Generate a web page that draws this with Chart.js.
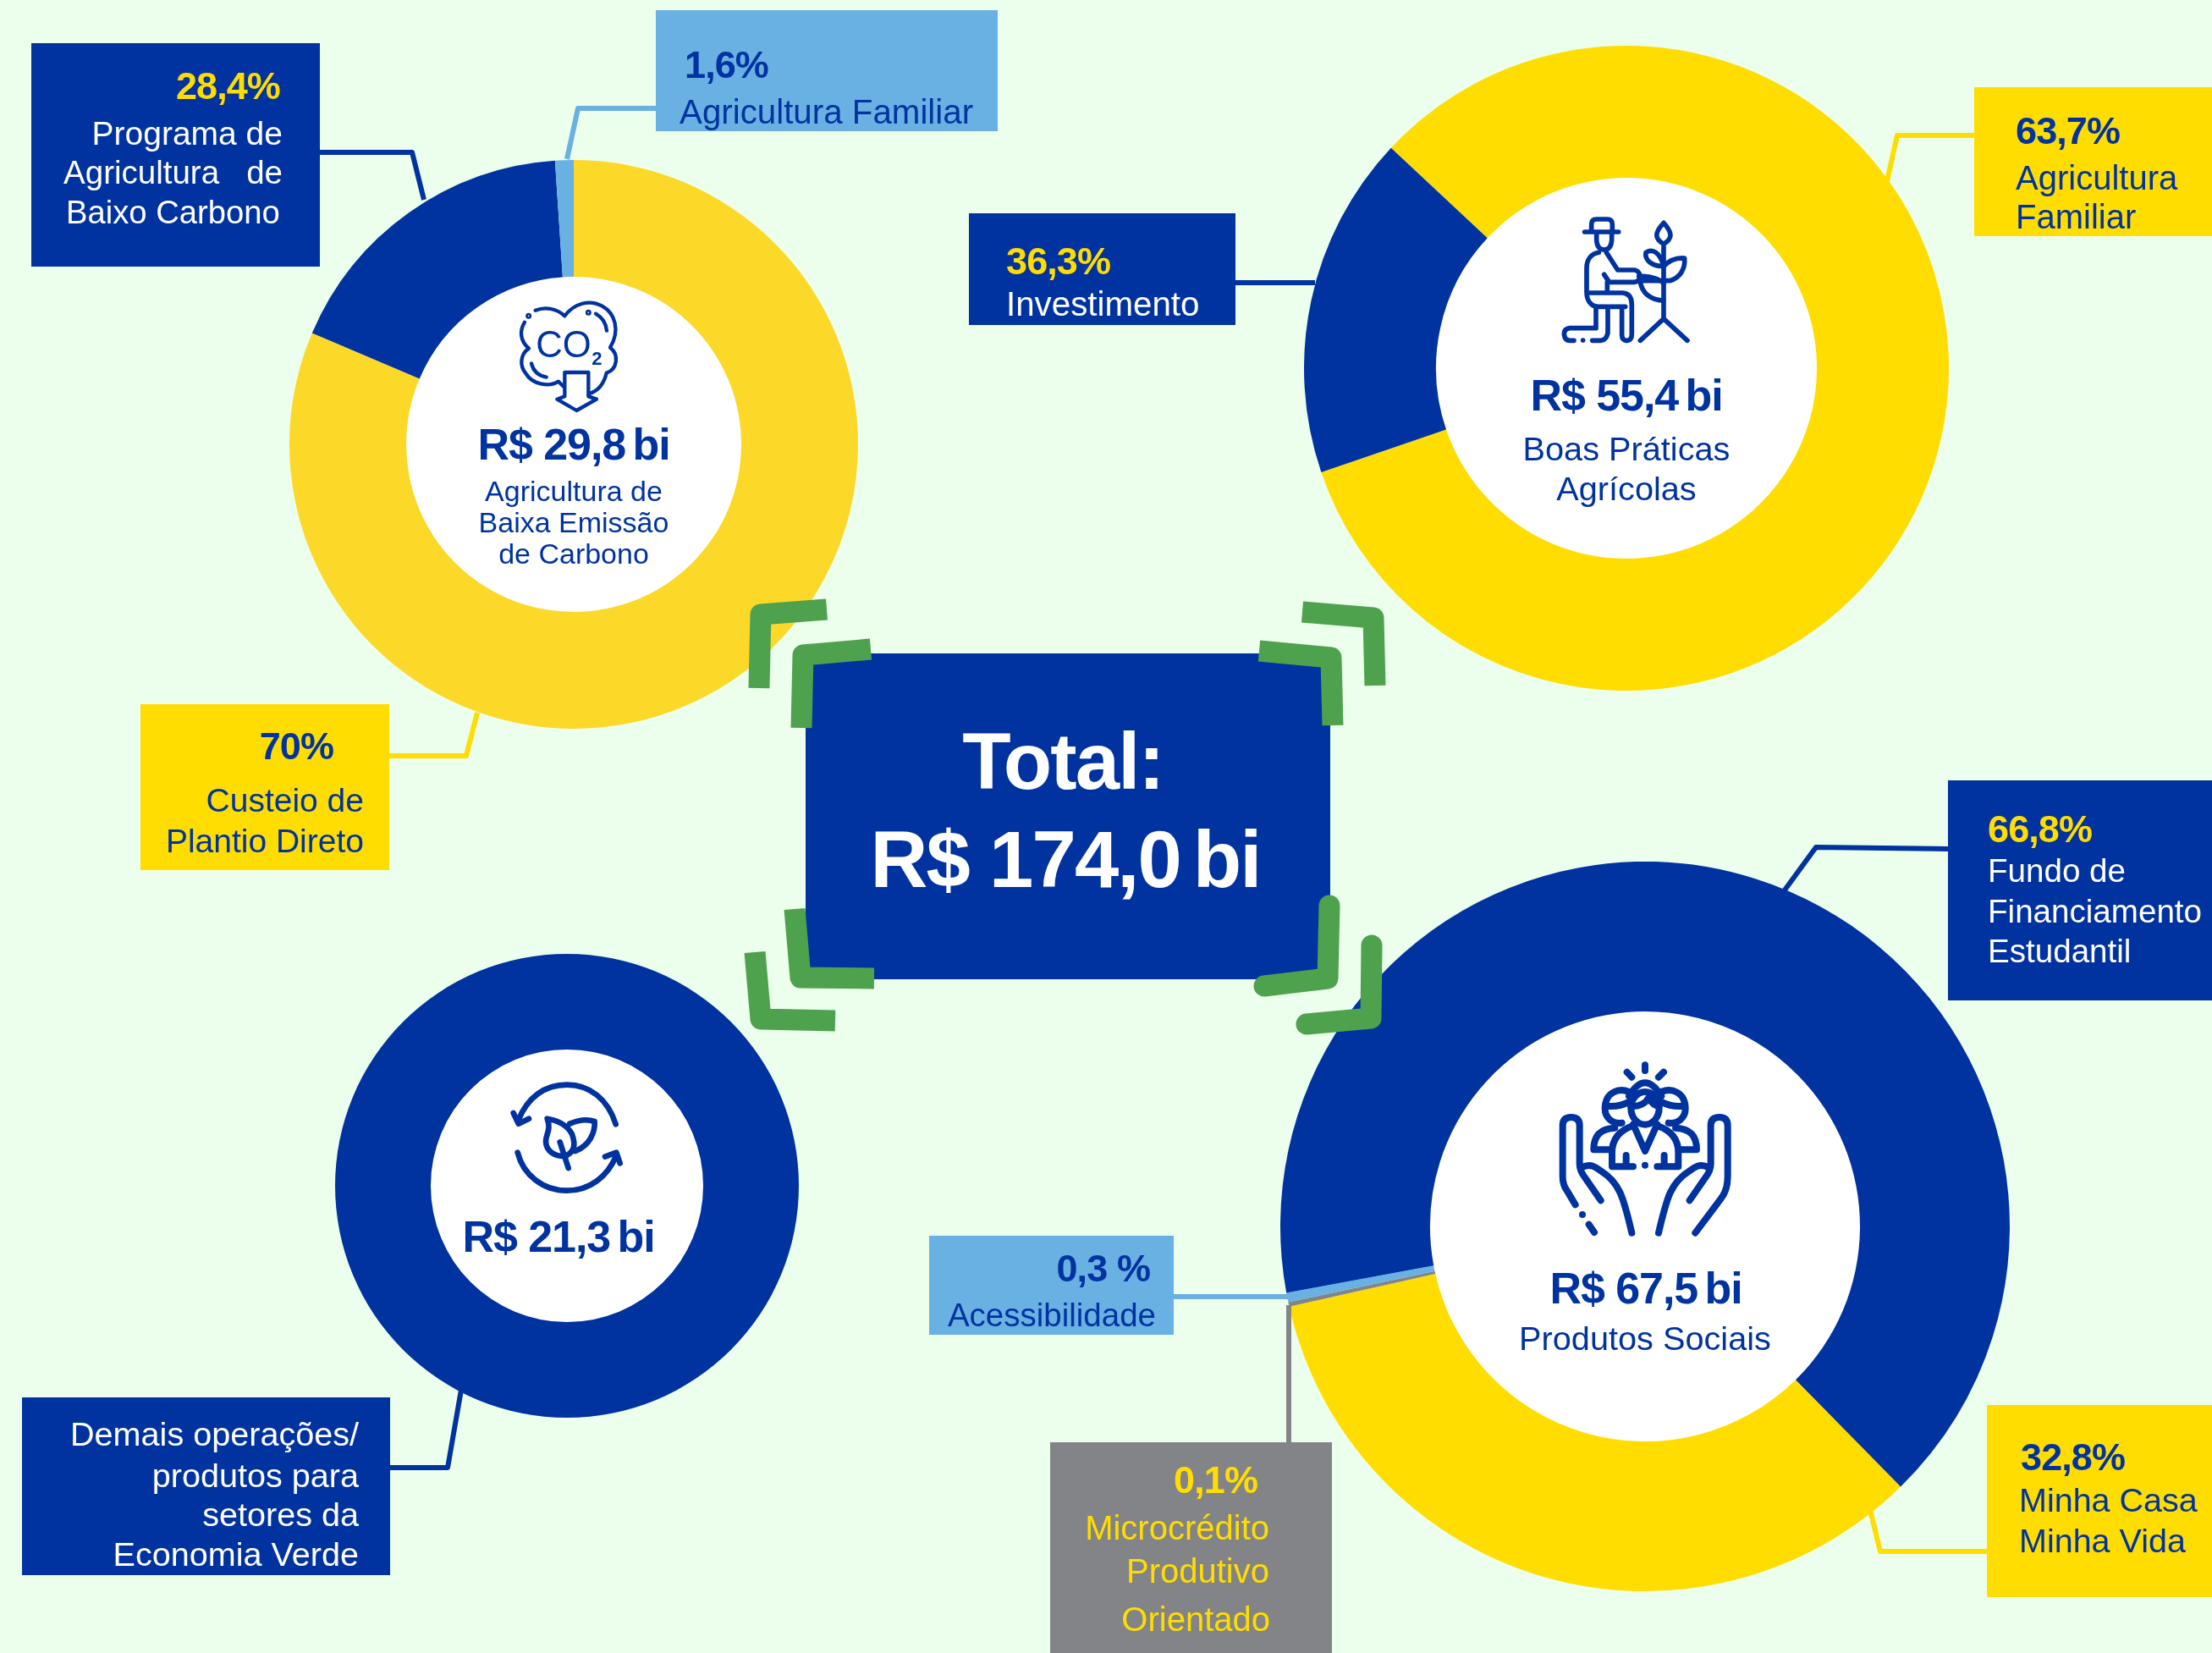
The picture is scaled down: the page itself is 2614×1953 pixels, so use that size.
<!DOCTYPE html>
<html lang="pt-BR">
<head>
<meta charset="utf-8">
<title>Total: R$ 174,0 bi</title>
<script src="https://cdn.jsdelivr.net/npm/chart.js@4"></script>
<style>
    html, body { margin: 0; background: #EBFFEC; }
    #pagina { position: relative; width: 2614px; height: 1953px; overflow: hidden; font-family: "Liberation Sans", Arial, sans-serif; }
    #pagina canvas, #pagina svg, .caixa, .texto { position: absolute; }
    .texto { white-space: pre; line-height: 1; }
    .texto span { margin-left: -0.1em; }
    .icone { fill: none; stroke: #0033A0; stroke-linecap: round; stroke-linejoin: round; }
</style>
</head>
<body>
<div id="pagina"></div>
<script>
// cores
const azul = '#0033A0';
const amarelo = '#FFDD00';
const amareloCarbono = '#FCD829';
const azulClaro = '#69B0E3';
const cinza = '#838487';
const verde = '#4EA24E';

// fatias como aparecem desenhadas (a arte nao segue os percentuais impressos)
const rotulosCarbono = ['Custeio de Plantio Direto', 'Programa de Agricultura de Baixo Carbono', 'Agricultura Familiar'];
const fatiasCarbono = [81.4, 17.55, 1.05];
const rotulosBoasPraticas = ['Agricultura Familiar', 'Investimento'];
const fatiasBoasPraticas = [82.8, 17.2];
const rotulosEconomiaVerde = ['Demais operações/produtos para setores da Economia Verde'];
const fatiasEconomiaVerde = [100];
const rotulosSociais = ['Minha Casa Minha Vida', 'Microcrédito Produtivo Orientado', 'Acessibilidade', 'Fundo de Financiamento Estudantil'];
const fatiasSociais = [33.83, 0.2, 0.42, 65.55];

// percentuais e totais impressos
const percentCarbono = ['70%', '28,4%', '1,6%'];
const percentBoasPraticas = ['63,7%', '36,3%'];
const percentSociais = ['32,8%', '0,1%', '0,3 %', '66,8%'];
const totais = ['R$ 29,8 bi', 'R$ 55,4 bi', 'R$ 21,3 bi', 'R$ 67,5 bi'];
const totalGeral = 'R$ 174,0 bi';

const pagina = document.getElementById('pagina');

// preenche o furo da rosca de branco
const furoBranco = {
    id: 'furoBranco',
    beforeDatasetsDraw(chart) {
        const arco = chart.getDatasetMeta(0).data[0];
        const ctx = chart.ctx;
        ctx.save();
        ctx.fillStyle = '#fff';
        ctx.beginPath();
        ctx.arc(arco.x, arco.y, arco.innerRadius + 1, 0, Math.PI * 2);
        ctx.fill();
        ctx.restore();
    },
};

function criarRosca(cx, cy, raio, raioInterno, rotacao, rotulos, valores, cores) {
    const canvas = document.createElement('canvas');
    canvas.width = raio * 2;
    canvas.height = raio * 2;
    canvas.style.left = (cx - raio) + 'px';
    canvas.style.top = (cy - raio) + 'px';
    pagina.appendChild(canvas);
    new Chart(canvas, {
        type: 'doughnut',
        data: {
            labels: rotulos,
            datasets: [{ data: valores, backgroundColor: cores, borderWidth: 0 }],
        },
        options: {
            responsive: false,
            animation: false,
            cutout: raioInterno,
            rotation: rotacao,
            plugins: { legend: { display: false }, tooltip: { enabled: false } },
        },
        plugins: [furoBranco],
    });
}

criarRosca(678, 525, 336, 198, 0, rotulosCarbono, fatiasCarbono, [amareloCarbono, azul, azulClaro]);
criarRosca(1922, 435, 381, 225, -46.9, rotulosBoasPraticas, fatiasBoasPraticas, [amarelo, azul]);
criarRosca(670, 1401, 274, 161, 0, rotulosEconomiaVerde, fatiasEconomiaVerde, [azul]);
criarRosca(1944, 1449, 431, 254, 135.5, rotulosSociais, fatiasSociais, [amarelo, cinza, azulClaro, azul]);

// caixas: x0, y0, x1, y1, cor
const caixas = [
    [37, 51, 378, 315, azul],
    [775, 12, 1179, 155, azulClaro],
    [166, 832, 460, 1028, amarelo],
    [1145, 252, 1460, 384, azul],
    [2333, 103, 2614, 279, amarelo],
    [952, 772, 1572, 1157, azul],
    [2302, 922, 2614, 1182, azul],
    [2348, 1660, 2614, 1887, amarelo],
    [1098, 1460, 1387, 1577, azulClaro],
    [1241, 1704, 1574, 1953, cinza],
    [26, 1651, 461, 1861, azul],
];

caixas.forEach(([x0, y0, x1, y1, cor]) => {
    const div = document.createElement('div');
    div.className = 'caixa';
    div.style.cssText = `left:${x0}px;top:${y0}px;width:${x1 - x0}px;height:${y1 - y0}px;background:${cor}`;
    pagina.appendChild(div);
});

// linhas de chamada e cantos verdes
const linhas = [
    ['378,180 487,180 501,236', azul],
    ['775,128 683,128 670,188', azulClaro],
    ['460,893 551,893 564,842', amarelo],
    ['1460,334 1554,334', azul],
    ['2333,160 2242,160 2230,214', amarelo],
    ['2302,1003 2146,1001 2108,1053', azul],
    ['2348,1833 2222,1833 2210,1784', amarelo],
    ['1387,1532 1523,1532', azulClaro],
    ['1523,1542 1523,1726', cinza],
    ['461,1734 529,1734 545,1642', azul],
];
const cantos = [
    ['897,813 899,726 977,720', 'butt'],
    ['947,860 949,774 1029,767', 'butt'],
    ['1539,723 1623,730 1625,810', 'butt'],
    ['1488,769 1573,777 1575,857', 'butt'],
    ['939,1074 946,1155 1033,1156', 'butt'],
    ['892,1125 899,1204 987,1206', 'butt'],
    ['1571,1070 1569,1156 1494,1165', 'round'],
    ['1621,1117 1620,1203 1544,1210', 'round'],
];

let svg = '<svg style="left:0;top:0" width="2614" height="1953">';
linhas.forEach(([pontos, cor]) => {
    svg += `<polyline points="${pontos}" fill="none" stroke="${cor}" stroke-width="6" stroke-linejoin="round"/>`;
});
cantos.forEach(([pontos, ponta]) => {
    svg += `<polyline points="${pontos}" fill="none" stroke="${verde}" stroke-width="25" stroke-linejoin="round" stroke-linecap="${ponta}"/>`;
});
svg += '</svg>';
pagina.insertAdjacentHTML('beforeend', svg);

// icones: x, y, lado na pagina, lado do viewBox, traco, desenho
const icones = [
    [590, 340, 170, 510, 13, `
        <circle cx="104" cy="100" r="4"/><circle cx="316" cy="88" r="4"/>
        <path d="M90 122C70 155 75 190 105 215C75 235 70 275 95 305C115 340 175 355 210 332L228 350"/>
        <path d="M128 80C165 65 205 75 232 100C265 55 320 40 365 65C410 90 430 150 393 212C425 235 420 290 380 302C370 345 350 365 320 375"/>
        <path d="M342 92C365 105 378 125 381 152M114 268C120 295 140 312 167 317"/>
        <path d="M232 300H316V385L345 395L274 435L205 395L232 385Z" fill="#fff"/>
        <text x="130" y="245" font-size="131" fill="${azul}" stroke="none">CO</text>
        <text x="328" y="272" font-size="66" font-weight="700" fill="${azul}" stroke="none">2</text>`],
    [1830, 245, 175, 525, 17, `
        <path d="M128 87H248M152 87V60Q152 42 170 42H208Q226 42 226 60V87M170 87V115Q172 150 197 150Q222 150 224 115V87"/>
        <path d="M178 160C150 165 135 185 135 215V300C135 330 150 350 175 352H272"/>
        <path d="M205 160L245 222H305Q322 225 325 245Q322 262 305 265H215L197 238M208 265V300"/>
        <path d="M145 303H262Q295 305 295 345V450Q295 470 280 472H275Q260 470 260 452V358"/>
        <path d="M210 358V445Q205 470 185 472H155M168 358V428H75Q55 430 55 450Q58 472 75 472H90M122 471V471"/>
        <path d="M408 140V395M408 55C375 90 375 110 408 130C440 110 440 90 408 55Z"/>
        <path d="M408 208C395 160 370 145 345 160C340 185 365 210 408 208Z"/>
        <path d="M408 210C425 190 450 178 482 180C485 220 465 250 430 260H325M320 245C365 240 400 260 408 270M325 262C330 305 365 330 408 330"/>
        <path d="M325 472L408 395L492 472"/>`],
    [590, 1265, 160, 480, 20, `
        <path d="M413 190C385 100 320 50 240 50C160 50 100 95 68 175M50 150L68 188L105 170"/>
        <path d="M65 290C85 370 155 425 240 425C320 425 385 375 415 300M375 305L415 290L428 328"/>
        <path d="M170 170C200 175 240 190 258 225C272 265 265 285 240 300C200 310 165 285 165 250C165 225 185 210 170 170Z"/>
        <path d="M250 188C280 175 310 170 338 180C340 220 320 265 270 285M215 253L245 345"/>`],
    [1830, 1250, 230, 690, 24, `
        <path d="M342 25V45M278 50L295 68M408 50L390 68"/>
        <ellipse cx="342" cy="178" rx="50" ry="58"/>
        <path d="M292 170C320 175 345 160 355 140C365 160 380 170 392 170M285 135Q342 40 400 135"/>
        <path d="M285 120C250 105 200 120 200 180C200 210 225 235 260 230M205 170Q250 175 285 155"/>
        <path d="M400 120C435 105 485 120 485 180C485 210 460 235 425 230M480 170Q435 175 400 155"/>
        <path d="M235 248C185 250 160 275 160 325H220M450 248C500 250 525 275 525 325H465"/>
        <path d="M300 240C255 255 225 285 225 335V385H300M385 240C430 255 460 285 460 335V385H385M300 235L342 330L385 235M275 345V385M410 345V385M342 380V380"/>
        <path d="M95 520L65 470Q50 450 50 420V240Q50 210 80 210Q110 210 110 240V375Q110 400 130 425L185 505"/>
        <path d="M125 385C150 375 165 385 185 400C250 440 265 490 295 620M120 555V555M143 590L162 618"/>
        <path d="M520 620L610 500Q635 470 635 420V240Q635 210 605 210Q575 210 575 240V375Q575 400 555 425L500 505"/>
        <path d="M560 385C535 375 520 385 500 400C435 440 420 490 390 620"/>`],
];

icones.forEach(([x, y, lado, caixa, traco, desenho]) => {
    pagina.insertAdjacentHTML('beforeend',
        `<svg class="icone" style="left:${x}px;top:${y}px" width="${lado}" height="${lado}" viewBox="0 0 ${caixa} ${caixa}" stroke-width="${traco}">${desenho}</svg>`);
});

// textos: x, centro y, texto, tamanho, negrito, cor, alinhamento
const textos = [
    [331, 99, percentCarbono[1], 45, 1, amarelo, 'r'],
    [334, 157, 'Programa de', 39, 0, '#fff', 'r'],
    [334, 204, 'Agricultura   de', 38.5, 0, '#fff', 'r'],
    [78, 251, 'Baixo Carbono', 38.2, 0, '#fff', 'l'],
    [809, 74, percentCarbono[2], 45, 1, azul, 'l'],
    [803, 133, rotulosCarbono[2], 40.3, 0, azul, 'l'],
    [394, 879, percentCarbono[0], 45, 1, azul, 'r'],
    [430, 945, 'Custeio de', 39, 0, azul, 'r'],
    [430, 993, 'Plantio Direto', 39, 0, azul, 'r'],
    [678, 523, totais[0], 52, 1, azul, 'c'],
    [678, 580, 'Agricultura de', 34, 0, azul, 'c'],
    [678, 617, 'Baixa Emissão', 34, 0, azul, 'c'],
    [678, 654, 'de Carbono', 34, 0, azul, 'c'],

    [1189, 306, percentBoasPraticas[1], 45, 1, amarelo, 'l'],
    [1189, 360, rotulosBoasPraticas[1], 40.3, 0, '#fff', 'l'],
    [2382, 152, percentBoasPraticas[0], 45, 1, azul, 'l'],
    [2382, 210, 'Agricultura', 40, 0, azul, 'l'],
    [2382, 256, 'Familiar', 40, 0, azul, 'l'],
    [1922, 465, totais[1], 52, 1, azul, 'c'],
    [1922, 531, 'Boas Práticas', 39.7, 0, azul, 'c'],
    [1922, 578, 'Agrícolas', 39.7, 0, azul, 'c'],

    [1256, 898, 'Total:', 94, 1, '#fff', 'c'],
    [1259, 1014, totalGeral, 94, 1, '#fff', 'c'],

    [2349, 977, percentSociais[3], 45, 1, amarelo, 'l'],
    [2349, 1029, 'Fundo de', 38.6, 0, '#fff', 'l'],
    [2349, 1077, 'Financiamento', 38.6, 0, '#fff', 'l'],
    [2349, 1124, 'Estudantil', 38.6, 0, '#fff', 'l'],
    [2388, 1719, percentSociais[0], 45, 1, azul, 'l'],
    [2386, 1773, 'Minha Casa', 39.5, 0, azul, 'l'],
    [2386, 1821, 'Minha Vida', 39.5, 0, azul, 'l'],
    [1359, 1496, percentSociais[2], 45, 1, azul, 'r'],
    [1366, 1554, rotulosSociais[2], 38.5, 0, azul, 'r'],
    [1486, 1746, percentSociais[1], 45, 1, amarelo, 'r'],
    [1500, 1805, 'Microcrédito', 40, 0, amarelo, 'r'],
    [1500, 1856, 'Produtivo', 40, 0, amarelo, 'r'],
    [1501, 1913, 'Orientado', 40, 0, amarelo, 'r'],
    [1945, 1520, totais[3], 52, 1, azul, 'c'],
    [1944, 1582, 'Produtos Sociais', 39.7, 0, azul, 'c'],

    [660, 1459, totais[2], 52, 1, azul, 'c'],
    [424, 1695, 'Demais operações/', 39.6, 0, '#fff', 'r'],
    [424, 1744, 'produtos para', 39.6, 0, '#fff', 'r'],
    [424, 1790, 'setores da', 39.6, 0, '#fff', 'r'],
    [424, 1837, 'Economia Verde', 39.6, 0, '#fff', 'r'],
];

const deslocamento = { l: '0', c: '-50%', r: '-100%' };
textos.forEach(([x, y, texto, tamanho, negrito, cor, alinhamento]) => {
    const div = document.createElement('div');
    div.className = 'texto';
    if (texto.endsWith(' bi')) {
        // o espaco antes de "bi" e mais estreito no original
        div.append(texto.slice(0, -2));
        const bi = document.createElement('span');
        bi.textContent = 'bi';
        div.append(bi);
    } else {
        div.textContent = texto;
    }
    const topo = negrito ? y + 1.5 : y;
    div.style.cssText = `left:${x}px;top:${topo}px;font-size:${tamanho}px;font-weight:${negrito ? 700 : 400};color:${cor};`
        + `transform:translate(${deslocamento[alinhamento]},-50%);letter-spacing:${negrito ? '-0.02em' : '0'}`;
    pagina.appendChild(div);
});
</script>
</body>
</html>
